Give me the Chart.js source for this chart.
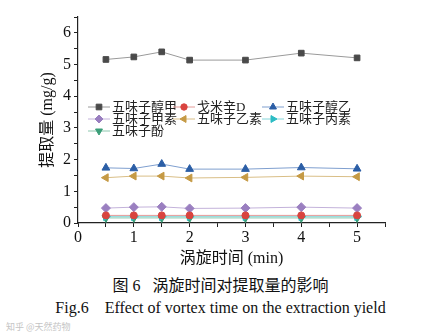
<!DOCTYPE html>
<html>
<head>
<meta charset="utf-8">
<script src="https://cdn.jsdelivr.net/npm/chart.js@4/dist/chart.umd.min.js"></script>
<style>
  body { margin: 0; background: #fff; width: 441px; height: 336px; overflow: hidden; font-family: "Liberation Serif", "Noto Sans CJK SC", serif; }
  #wrap { position: absolute; left: 0; top: 0; width: 441px; height: 268px; }
  .cap { position: absolute; left: 0; width: 441px; text-align: center; color: #111; font-size: 16px; }
  #mark { position: absolute; left: 6px; top: 320px; font-size: 9px; color: #c4c4c4; font-family: "Noto Sans CJK SC", sans-serif; }
</style>
</head>
<body>
<div id="wrap"><canvas id="chart" width="441" height="268"></canvas></div>
<div class="cap" style="top:272px;">图 6&nbsp;&nbsp;&nbsp;涡旋时间对提取量的影响</div>
<div class="cap" style="top:299px;">Fig.6&nbsp;&nbsp;&nbsp;&nbsp;Effect of vortex time on the extraction yield</div>
<div id="mark">知乎 @天然药物</div>
<script>
const times = [0.5, 1, 1.5, 2, 3, 4, 5];
const names = ["五味子醇甲", "戈米辛D", "五味子醇乙", "五味子甲素", "五味子乙素", "五味子丙素", "五味子酚"];
const schisandrolA = [5.16, 5.24, 5.40, 5.14, 5.14, 5.36, 5.21];
const gomisinD     = [0.24, 0.24, 0.24, 0.24, 0.24, 0.24, 0.24];
const schisandrolB = [1.74, 1.72, 1.86, 1.70, 1.70, 1.75, 1.71];
const schisandrinA = [0.47, 0.50, 0.51, 0.46, 0.47, 0.50, 0.47];
const schisandrinB = [1.43, 1.48, 1.48, 1.42, 1.44, 1.48, 1.46];
const schisandrinC = [0.20, 0.20, 0.20, 0.20, 0.20, 0.20, 0.20];
const schisanhenol = [0.16, 0.16, 0.16, 0.16, 0.16, 0.16, 0.16];
const yTicks = [0, 1, 2, 3, 4, 5, 6];
const xTicks = [0, 1, 2, 3, 4, 5];

const series = [schisandrolA, gomisinD, schisandrolB, schisandrinA, schisandrinB, schisandrinC, schisanhenol];
const colors = ["#4a4a4a", "#d9443f", "#2b5ea6", "#9a7fc0", "#c59a45", "#2cbcc4", "#3a9e78"];
const lineColors = ["#9a9a9a", "#e49a98", "#7f9fcf", "#c3b2da", "#d9be86", "#86d6da", "#8cc7ae"];
const styles = ["rect", "circle", "triangle", "rectRot", "triangle", "triangle", "triangle"];
const rotations = [0, 0, 0, 0, -90, 90, 180];
const radii = [4, 3.5, 4.5, 4.5, 4.5, 4.5, 4.5];

const serif = "'Liberation Serif', 'Noto Sans CJK SC', serif";

const datasets = series.map((vals, i) => ({
  label: names[i],
  data: vals.map((v, j) => ({ x: times[j], y: v })),
  borderColor: lineColors[i],
  borderWidth: 1,
  backgroundColor: colors[i],
  pointBackgroundColor: colors[i],
  pointBorderColor: colors[i],
  pointStyle: styles[i],
  rotation: rotations[i],
  pointRadius: radii[i],
  tension: 0
}));

// legend drawn inside the plot area, 3 columns
const legendBox = {
  id: "legendBox",
  afterDraw(chart) {
    const ctx = chart.ctx;
    const cols = [88, 173, 262];
    const rows = [107, 119, 131];
    ctx.save();
    ctx.font = "13px " + serif;
    ctx.textBaseline = "middle";
    chart.data.datasets.forEach((ds, i) => {
      const x = cols[i % 3], y = rows[Math.floor(i / 3)];
      ctx.strokeStyle = ds.borderColor;
      ctx.lineWidth = 1;
      ctx.beginPath();
      ctx.moveTo(x, y);
      ctx.lineTo(x + 22, y);
      ctx.stroke();
      ctx.fillStyle = ds.pointBackgroundColor;
      ctx.strokeStyle = ds.pointBorderColor;
      const r = ds.pointStyle === "circle" ? 3.2 : 4;
      Chart.helpers.drawPoint(ctx, { pointStyle: ds.pointStyle, radius: r, rotation: ds.rotation, borderWidth: 1 }, x + 11, y);
      ctx.fillStyle = "#222";
      ctx.fillText(ds.label, x + 24, y + 1);
    });
    ctx.restore();
  }
};

new Chart(document.getElementById("chart"), {
  type: "line",
  data: { datasets },
  options: {
    responsive: false,
    animation: false,
    layout: { padding: { top: 17, right: 56, left: 34, bottom: 0 } },
    plugins: { legend: { display: false }, tooltip: { enabled: false } },
    scales: {
      x: {
        type: "linear",
        min: 0, max: 5.5,
        afterBuildTicks(s) { s.ticks = []; for (let v = 0; v <= 5.5; v += 0.5) s.ticks.push({ value: v }); },
        ticks: {
          color: "#111",
          font: { family: serif, size: 16 },
          padding: 1,
          maxRotation: 0,
          autoSkip: false,
          callback: v => xTicks.includes(v) ? v : ""
        },
        grid: { drawOnChartArea: false, tickLength: 4, color: "#222" },
        border: { color: "#222", width: 1.2 },
        title: { display: true, text: "涡旋时间 (min)", color: "#111", font: { family: serif, size: 16 }, padding: { top: 6, bottom: 0 } },
        afterFit(s) { s.height = 268 - 223; }
      },
      y: {
        min: 0, max: 6.5,
        afterBuildTicks(s) { s.ticks = []; for (let v = 0; v <= 6.5; v += 0.5) s.ticks.push({ value: v }); },
        ticks: {
          color: "#111",
          font: { family: serif, size: 16 },
          padding: 3,
          autoSkip: false,
          callback: v => yTicks.includes(v) ? v : ""
        },
        grid: { drawOnChartArea: false, tickLength: 4, color: "#222" },
        border: { color: "#222", width: 1.2 },
        title: { display: true, text: "提取量 (mg/g)", color: "#111", font: { family: serif, size: 16 }, padding: { bottom: 2 } },
        afterFit(s) { s.width = 44; }
      }
    }
  },
  plugins: [legendBox]
});
</script>
</body>
</html>
